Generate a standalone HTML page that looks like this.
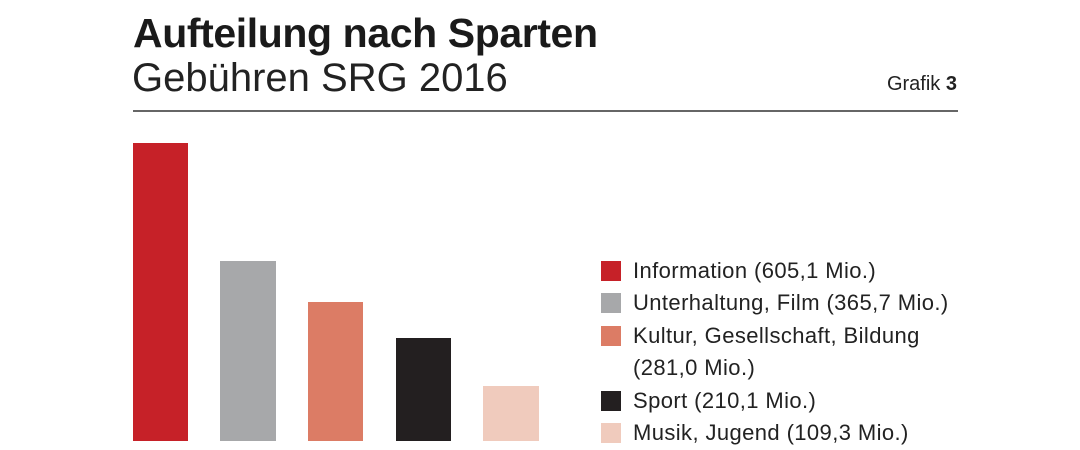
<!DOCTYPE html>
<html><head><meta charset="utf-8"><style>
body{margin:0;width:1080px;height:450px;background:#fff;position:relative;overflow:hidden;font-family:"Liberation Sans",sans-serif;color:#1a1a1a}
.a{position:absolute;white-space:nowrap}
.bar{position:absolute}
.sq{position:absolute;left:601px;width:20px;height:20px}
.lg{position:absolute;left:633px;font-size:22px;letter-spacing:0.4px;line-height:24px;color:#222}
</style></head><body>
<div class="a" style="left:133px;top:10px;font-size:41px;font-weight:bold;letter-spacing:-0.4px;color:#1a1a1a">Aufteilung nach Sparten</div>
<div class="a" style="left:132px;top:56px;font-size:40px;font-weight:300;color:#222">Gebühren SRG 2016</div>
<div class="a" style="right:123px;top:73px;font-size:20px;color:#222">Grafik <b>3</b></div>
<div class="bar" style="left:133px;top:110px;width:825px;height:2px;background:#666"></div>
<div class="bar" style="left:133px;top:143px;width:55px;height:298px;background:#c62128"></div>
<div class="bar" style="left:220px;top:261px;width:56px;height:180px;background:#a7a8aa"></div>
<div class="bar" style="left:308px;top:302px;width:55px;height:139px;background:#dc7c65"></div>
<div class="bar" style="left:396px;top:338px;width:55px;height:103px;background:#231f20"></div>
<div class="bar" style="left:483px;top:386px;width:56px;height:55px;background:#f0cbbd"></div>
<div class="sq" style="top:261px;background:#c62128"></div>
<div class="sq" style="top:293px;background:#a7a8aa"></div>
<div class="sq" style="top:326px;background:#dc7c65"></div>
<div class="sq" style="top:391px;background:#231f20"></div>
<div class="sq" style="top:423px;background:#f0cbbd"></div>
<div class="lg" style="top:259px">Information (605,1 Mio.)</div>
<div class="lg" style="top:291px">Unterhaltung, Film (365,7 Mio.)</div>
<div class="lg" style="top:324px">Kultur, Gesellschaft, Bildung</div>
<div class="lg" style="top:356px">(281,0 Mio.)</div>
<div class="lg" style="top:389px">Sport (210,1 Mio.)</div>
<div class="lg" style="top:421px">Musik, Jugend (109,3 Mio.)</div>
</body></html>
